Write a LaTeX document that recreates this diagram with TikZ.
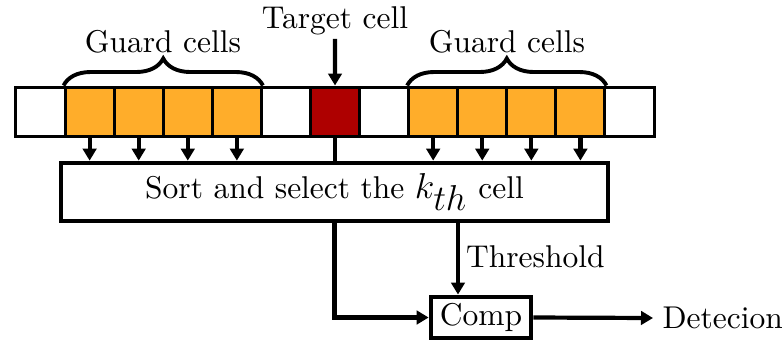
\documentclass[tikz,border=0pt]{standalone}
\usetikzlibrary{arrows.meta,decorations.pathreplacing,calc}
\definecolor{guardc}{HTML}{FFAD2A}
\definecolor{targc}{HTML}{AE0000}
\begin{document}
\begin{tikzpicture}[x=0.33333pt,y=-0.33333pt,
  font=\fontsize{10.5}{12.5}\selectfont,
  cellbox/.style={draw,line width=1pt,minimum width=16.36pt,minimum height=16.33pt,inner sep=0pt,fill=white},
  guardbox/.style={cellbox,fill=guardc},
  targbox/.style={cellbox,fill=targc},
  blockbox/.style={draw,line width=1.6pt,inner sep=0pt},
  arr/.style={line width=1.4pt,-{Triangle[length=4pt,width=4.5pt]}},
  plainline/.style={line width=1.4pt},
  bracestyle/.style={decorate,decoration={brace,amplitude=9pt},line width=1.3pt}]
\useasboundingbox (0,0) rectangle (782,340);
% cells
\foreach \i/\s in {0/cellbox,1/guardbox,2/guardbox,3/guardbox,4/guardbox,5/cellbox,6/targbox,7/cellbox,8/guardbox,9/guardbox,10/guardbox,11/guardbox,12/cellbox}{
  \node[\s] (c\i) at ({16+49.08*(\i+0.5)},111.5) {};
}
% braces and labels
\draw[bracestyle] (c1.north west) -- (c4.north east);
\draw[bracestyle] (c8.north west) -- (c11.north east);
\node (g1) at (163,42) {Guard cells};
\node (g2) at (507,42) {Guard cells};
\node[inner sep=1pt] (tgt) at (335,21) {Target cell};
\draw[arr] (tgt.south) -- (c6.north);
% sort box
\node[blockbox,minimum width=182.3pt,minimum height=19.3pt] (sort) at (334.5,192) {Sort and select the {\fontsize{11.5}{12}\selectfont$k_{\textstyle th}$} cell};
\foreach \i in {1,2,3,4,8,9,10,11}{
  \draw[arr] (c\i.south) -- (c\i.south |- sort.north);
}
\draw[plainline] (c6.south) -- (c6.south |- sort.north);
% comp
\node[blockbox,minimum width=33.3pt,minimum height=13.7pt] (comp) at (481,317.5) {Comp};
\coordinate (th) at (458,221);
\draw[arr] (th) -- (th |- comp.north) node[pos=0.48,right,inner sep=2pt] (thl) {Threshold};
\draw[arr] (sort.south) -- (sort.south |- comp.west) -- (comp.west);
\node[anchor=west,inner sep=0pt] (det) at (662,318) {Detecion};
\draw[arr] (comp.east) -- ($(det.west)+(-9,0)$);
\end{tikzpicture}
\end{document}
